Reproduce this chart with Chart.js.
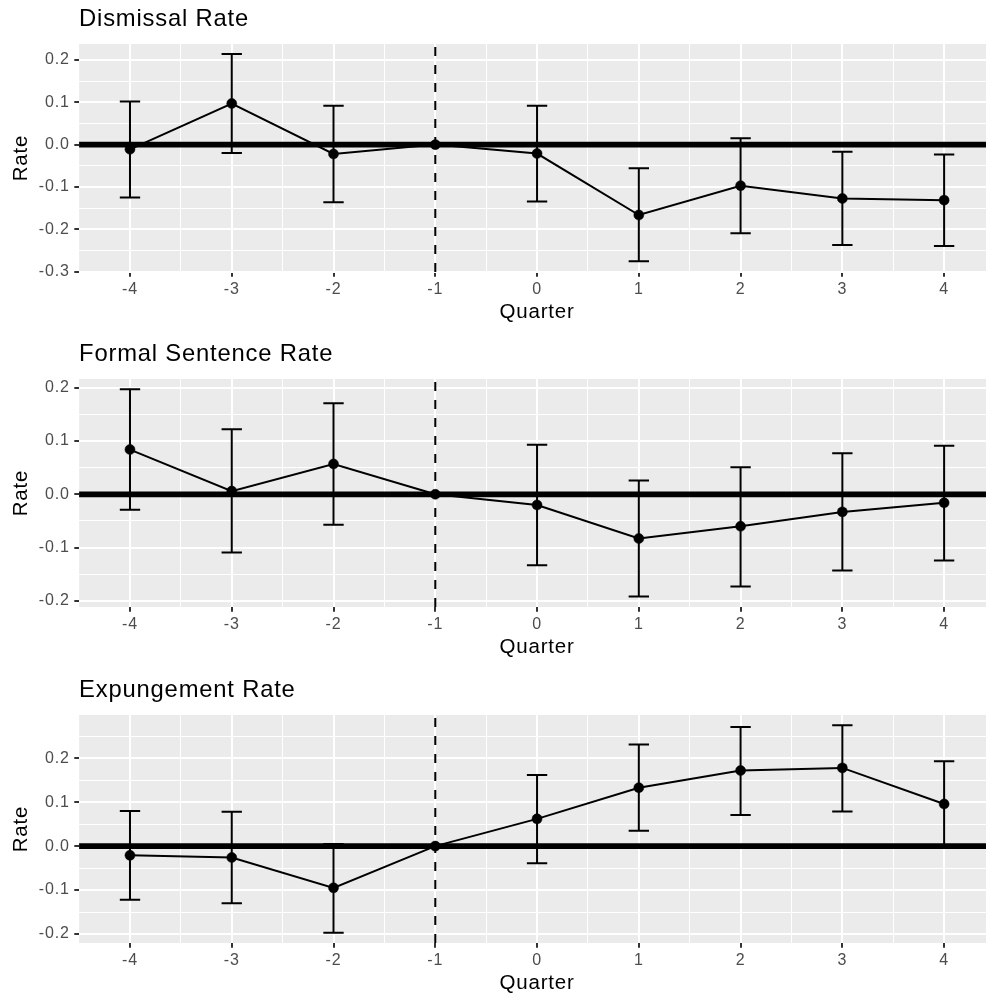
<!DOCTYPE html>
<html><head><meta charset="utf-8">
<script src="https://cdn.jsdelivr.net/npm/chart.js@4.4.0/dist/chart.umd.min.js"></script>
<style>
html,body{margin:0;padding:0;background:#fff;width:986px;height:998px;overflow:hidden;position:relative}
.panel{position:absolute;left:0;width:995px;height:328px}
canvas{display:block}
</style></head><body>
<div class="panel" style="top:0px"><canvas id="c1" width="995" height="328"></canvas></div>
<div class="panel" style="top:335px"><canvas id="c2" width="995" height="328"></canvas></div>
<div class="panel" style="top:671px"><canvas id="c3" width="995" height="328"></canvas></div>
<script>
// ---- data ----
const quarters = [-4, -3, -2, -1, 0, 1, 2, 3, 4];

const dismissalEst = [-0.011, 0.097, -0.022, 0, -0.021, -0.166, -0.097, -0.127, -0.131];
const dismissalLo  = [-0.125, -0.020, -0.136, null, -0.134, -0.275, -0.209, -0.237, -0.239];
const dismissalHi  = [0.102, 0.214, 0.092, null, 0.092, -0.056, 0.015, -0.017, -0.023];

const formalEst = [0.084, 0.006, 0.057, 0, -0.020, -0.083, -0.060, -0.033, -0.016];
const formalLo  = [-0.029, -0.109, -0.057, null, -0.133, -0.192, -0.173, -0.143, -0.124];
const formalHi  = [0.197, 0.122, 0.171, null, 0.093, 0.026, 0.051, 0.077, 0.091];

const expungeEst = [-0.021, -0.026, -0.095, 0, 0.062, 0.133, 0.172, 0.178, 0.096];
const expungeLo  = [-0.122, -0.130, -0.197, null, -0.039, 0.035, 0.071, 0.079, 0.000];
const expungeHi  = [0.080, 0.078, 0.005, null, 0.162, 0.231, 0.271, 0.275, 0.193];

const dismissalTicks = [-0.3, -0.2, -0.1, 0.0, 0.1, 0.2];
const formalTicks    = [-0.2, -0.1, 0.0, 0.1, 0.2];
const expungeTicks   = [-0.2, -0.1, 0.0, 0.1, 0.2];

const panelTitles = ['Dismissal Rate', 'Formal Sentence Rate', 'Expungement Rate'];
const xTitle = 'Quarter';
const yTitle = 'Rate';
const eventQuarter = -1;
const refValue = 0;

// ---- styling ----
const FONT = '"Liberation Sans", Arial, Helvetica, sans-serif';
Chart.defaults.font.family = FONT;
const LS = '0.8px';

function withMinors(majors, lo, hi) {
  const step = majors[1] - majors[0];
  const out = majors.map(v => ({value: v, minor: false}));
  const cands = [majors[0] - step / 2];
  for (let i = 0; i < majors.length - 1; i++) cands.push((majors[i] + majors[i + 1]) / 2);
  cands.push(majors[majors.length - 1] + step / 2);
  cands.forEach(v => { if (v > lo && v < hi) out.push({value: v, minor: true}); });
  return out.sort((a, b) => a.value - b.value);
}

function makeChart(id, title, est, lo, hi, yTicks, yMin, yMax) {
  const xMin = -4.5, xMax = 4.5;
  const capHalf = 0.1;
  const gg = {
    id: 'gg' + id,
    beforeUpdate(c) { c.ctx.letterSpacing = LS; },
    beforeDraw(c) {
      const {ctx, chartArea: a} = c;
      ctx.letterSpacing = LS;
      ctx.save();
      ctx.fillStyle = '#EBEBEB';
      ctx.fillRect(a.left, a.top, a.right - a.left, a.bottom - a.top);
      ctx.restore();
    },
    beforeDatasetsDraw(c) {
      const {ctx, chartArea: a} = c;
      const x = c.scales.x, y = c.scales.y;
      ctx.save();
      ctx.strokeStyle = '#000';
      // reference line at 0
      const y0 = y.getPixelForValue(refValue);
      ctx.lineWidth = 5.8;
      ctx.beginPath(); ctx.moveTo(a.left, y0); ctx.lineTo(a.right, y0); ctx.stroke();
      // dashed event line
      const xv = x.getPixelForValue(eventQuarter);
      ctx.lineWidth = 2;
      ctx.setLineDash([9, 9]);
      ctx.beginPath(); ctx.moveTo(xv, a.bottom); ctx.lineTo(xv, a.top); ctx.stroke();
      ctx.setLineDash([]);
      // error bars
      ctx.lineWidth = 2;
      quarters.forEach((q, i) => {
        if (lo[i] == null || hi[i] == null) return;
        const xc = x.getPixelForValue(q);
        const xl = x.getPixelForValue(q - capHalf), xr = x.getPixelForValue(q + capHalf);
        const yl = y.getPixelForValue(lo[i]), yh = y.getPixelForValue(hi[i]);
        ctx.beginPath();
        ctx.moveTo(xc, yl); ctx.lineTo(xc, yh);
        ctx.moveTo(xl, yl); ctx.lineTo(xr, yl);
        ctx.moveTo(xl, yh); ctx.lineTo(xr, yh);
        ctx.stroke();
      });
      ctx.restore();
    }
  };
  const xTickList = withMinors(quarters, xMin, xMax);
  const yTickList = withMinors(yTicks, yMin, yMax);
  return new Chart(document.getElementById(id), {
    type: 'line',
    data: {
      datasets: [{
        data: quarters.map((q, i) => ({x: q, y: est[i]})),
        borderColor: '#000', borderWidth: 2,
        pointRadius: 5, pointBackgroundColor: '#000', pointBorderColor: '#000', pointBorderWidth: 0.5,
        tension: 0, clip: false
      }]
    },
    options: {
      responsive: false, animation: false, devicePixelRatio: 1,
      layout: {padding: 0, autoPadding: false},
      plugins: {
        legend: {display: false}, tooltip: {enabled: false},
        title: {
          display: true, text: title, align: 'start', fullSize: false,
          color: '#000', font: {size: 23.8, weight: 'normal', family: FONT},
          padding: {top: 5.1, bottom: 10.3}
        }
      },
      scales: {
        x: {
          type: 'linear', min: xMin, max: xMax,
          afterBuildTicks: s => { s.ticks = xTickList.map(t => ({...t})); },
          afterFit: s => { s.height = 56; },
          ticks: {
            autoSkip: false, maxRotation: 0, padding: 3.4, color: '#4D4D4D',
            font: {size: 16, family: FONT},
            callback: (v, i, ticks) => ticks[i].minor ? '' : String(v)
          },
          grid: {
            color: '#FFFFFF',
            lineWidth: c => (c.tick && c.tick.minor) ? 1 : 2,
            drawTicks: true, tickLength: 4.8, tickWidth: 2,
            tickColor: c => (c.tick && c.tick.minor) ? 'rgba(0,0,0,0)' : '#333333'
          },
          border: {display: false},
          title: {display: true, text: xTitle, color: '#000', font: {size: 20.5, family: FONT}, padding: {top: 0, bottom: 3}}
        },
        y: {
          type: 'linear', min: yMin, max: yMax,
          afterBuildTicks: s => { s.ticks = yTickList.map(t => ({...t})); },
          afterFit: s => { s.width = 79.1; },
          ticks: {
            autoSkip: false, padding: 4.7, color: '#4D4D4D',
            font: {size: 16, family: FONT},
            callback: (v, i, ticks) => ticks[i].minor ? '' : v.toFixed(1)
          },
          grid: {
            color: '#FFFFFF',
            lineWidth: c => (c.tick && c.tick.minor) ? 1 : 2,
            drawTicks: true, tickLength: 4.8, tickWidth: 2,
            tickColor: c => (c.tick && c.tick.minor) ? 'rgba(0,0,0,0)' : '#333333'
          },
          border: {display: false},
          title: {display: true, text: yTitle, color: '#000', font: {size: 20.5, family: FONT}, padding: {top: 9, bottom: 0}}
        }
      }
    },
    plugins: [gg]
  });
}

makeChart('c1', panelTitles[0], dismissalEst, dismissalLo, dismissalHi, dismissalTicks, -0.3005, 0.2375);
makeChart('c2', panelTitles[1], formalEst, formalLo, formalHi, formalTicks, -0.2115, 0.2165);
makeChart('c3', panelTitles[2], expungeEst, expungeLo, expungeHi, expungeTicks, -0.2205, 0.2985);
</script>
</body></html>
